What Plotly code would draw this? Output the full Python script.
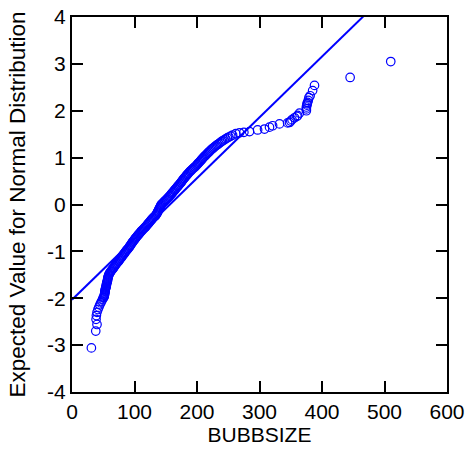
import plotly.graph_objects as go

# Sorted BUBBSIZE values (x) with their expected normal scores (y)
tail_low_x = [31, 38, 40, 38.5, 39, 40, 41.5, 43, 44.5, 46, 47.5, 49, 50]
tail_low_y = [-3.06, -2.70, -2.56, -2.45, -2.37, -2.30, -2.24, -2.19, -2.14, -2.10, -2.06, -2.02, -1.99]

band_x = [51, 51.5, 51.8, 52, 52.3, 52.5, 52.8, 53, 53.2, 53.5,
          54, 54.5, 54.8, 55, 55.2, 55.5, 56, 56.5, 56.8, 57,
          57.2, 57.5, 58, 58.5, 59, 59.5, 60.5, 61.5, 62.5, 63.5,
          64.8, 66, 67, 68, 69, 70, 71.2, 72.5, 73.8, 75,
          76, 77, 78.2, 79.5, 80.5, 81.5, 82.8, 84, 85, 86,
          87.2, 88.5, 89.8, 91, 92, 93, 94, 95, 96, 97,
          98.2, 99.5, 100.5, 101.5, 102.8, 104, 105.2, 106.5, 107.8, 109,
          110.2, 111.5, 113, 114.5, 116, 117.5, 118.8, 120, 121.2, 122.5,
          123.8, 125, 126.2, 127.5, 128.8, 130, 131.8, 133.5, 134.5, 135.5,
          136.2, 137, 137.8, 138.5, 139.2, 140, 140.8, 141.5, 142.2, 143,
          144.5, 146, 147.5, 149, 150.5, 152, 153.5, 155, 156.2, 157.5,
          158.8, 160, 161.2, 162.5, 163.8, 165, 166.2, 167.5, 168.8, 170,
          171.2, 172.5, 173.8, 175, 176, 177, 178.2, 179.5, 180.8, 182,
          183.2, 184.5, 185.8, 187, 188.5, 190, 191.5, 193, 194.8, 196.5,
          198, 199.5, 200.8, 202, 203.5, 205, 206.2, 207.5, 208.8, 210,
          211.5, 213, 214.5, 216, 217.5, 219, 220.5, 222, 223.8, 225.5,
          227.2, 229, 231, 233, 235, 237, 239, 241, 243.5, 246,
          248.5, 251, 254, 257]
band_y = [-1.98, -1.96, -1.94, -1.92, -1.90, -1.88, -1.86, -1.84, -1.82, -1.80,
          -1.78, -1.76, -1.74, -1.72, -1.70, -1.68, -1.66, -1.64, -1.62, -1.60,
          -1.58, -1.56, -1.54, -1.52, -1.50, -1.48, -1.46, -1.44, -1.42, -1.40,
          -1.38, -1.36, -1.34, -1.32, -1.30, -1.28, -1.26, -1.24, -1.22, -1.20,
          -1.18, -1.16, -1.14, -1.12, -1.10, -1.08, -1.06, -1.04, -1.02, -1.00,
          -0.98, -0.96, -0.94, -0.92, -0.90, -0.88, -0.86, -0.84, -0.82, -0.80,
          -0.78, -0.76, -0.74, -0.72, -0.70, -0.68, -0.66, -0.64, -0.62, -0.60,
          -0.58, -0.56, -0.54, -0.52, -0.50, -0.48, -0.46, -0.44, -0.42, -0.40,
          -0.38, -0.36, -0.34, -0.32, -0.30, -0.28, -0.26, -0.24, -0.22, -0.20,
          -0.18, -0.16, -0.14, -0.12, -0.10, -0.08, -0.06, -0.04, -0.02, 0.00,
          0.02, 0.04, 0.06, 0.08, 0.10, 0.12, 0.14, 0.16, 0.18, 0.20,
          0.22, 0.24, 0.26, 0.28, 0.30, 0.32, 0.34, 0.36, 0.38, 0.40,
          0.42, 0.44, 0.46, 0.48, 0.50, 0.52, 0.54, 0.56, 0.58, 0.60,
          0.62, 0.64, 0.66, 0.68, 0.70, 0.72, 0.74, 0.76, 0.78, 0.80,
          0.82, 0.84, 0.86, 0.88, 0.90, 0.92, 0.94, 0.96, 0.98, 1.00,
          1.02, 1.04, 1.06, 1.08, 1.10, 1.12, 1.14, 1.16, 1.18, 1.20,
          1.22, 1.24, 1.26, 1.28, 1.30, 1.32, 1.34, 1.36, 1.38, 1.40,
          1.42, 1.44, 1.46, 1.48]

tail_high_x = [262, 268, 275, 284, 297, 308, 316, 321, 332, 345, 348, 350, 352, 356, 360, 361,
               364, 375, 375, 375, 376, 376, 377, 378, 379, 381, 385, 388, 445, 510]
tail_high_y = [1.51, 1.53, 1.54, 1.556, 1.59, 1.61, 1.65, 1.68, 1.72, 1.74, 1.75, 1.78, 1.81,
               1.85, 1.88, 1.90, 1.95, 2.00, 2.04, 2.08, 2.12, 2.15, 2.18, 2.22, 2.28, 2.32,
               2.43, 2.54, 2.71, 3.05]

# Reference normal line: y = (x - mean) / sd
line_mean = 156.7
line_sd = 77.1
line_x = [0, 600]
line_y = [(v - line_mean) / line_sd for v in line_x]

x_ticks = [0, 100, 200, 300, 400, 500, 600]
y_ticks = [-4, -3, -2, -1, 0, 1, 2, 3, 4]
y_tick_text = ["-4", "-3", "-2", "-1", "0", "1", "2", "3", "4"]

x_vals = tail_low_x + band_x + tail_high_x
y_vals = tail_low_y + band_y + tail_high_y

blue = "#0000FF"
font_family = "Liberation Sans, Arial, sans-serif"
fs = 21

fig = go.Figure()
fig.add_trace(go.Scatter(x=line_x, y=line_y, mode="lines",
                         line=dict(color=blue, width=2), cliponaxis=True, showlegend=False))
fig.add_trace(go.Scatter(x=x_vals, y=y_vals, mode="markers",
                         marker=dict(symbol="circle-open", size=8.5, color=blue,
                                     line=dict(width=1.2, color=blue)),
                         cliponaxis=False, showlegend=False))

axis_common = dict(showgrid=False, zeroline=False, showline=True, linecolor="black",
                   linewidth=2, mirror="ticks", ticks="inside", ticklen=11, tickwidth=2,
                   tickcolor="black", automargin=False,
                   tickfont=dict(family=font_family, size=fs, color="black"))

fig.update_layout(
    width=467, height=450,
    margin=dict(l=72, r=20, t=17, b=58),
    paper_bgcolor="white", plot_bgcolor="white",
    font=dict(family=font_family, size=fs, color="black"),
    xaxis=dict(range=[0, 600], tickvals=x_ticks, ticktext=[str(t) for t in x_ticks],
               title=dict(text="BUBBSIZE", font=dict(family=font_family, size=fs), standoff=2),
               **axis_common),
    yaxis=dict(range=[-4, 4], tickvals=y_ticks, ticktext=y_tick_text,
               title=dict(text="Expected Value for Normal Distribution",
                          font=dict(family=font_family, size=22.5), standoff=15),
               **axis_common),
)

fig.write_html("out.html")
